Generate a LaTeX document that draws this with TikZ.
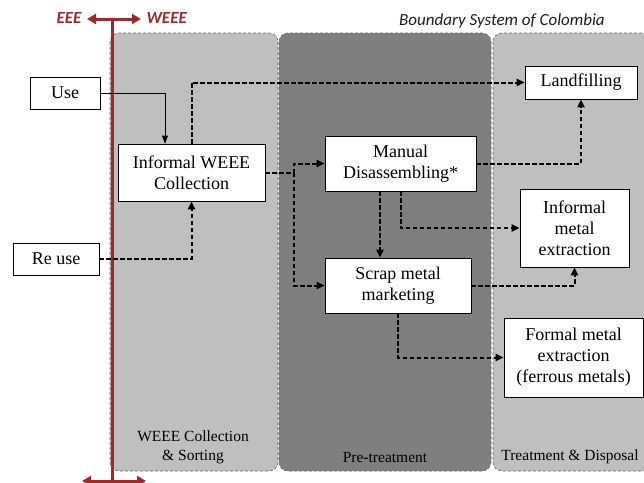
\documentclass[tikz,border=0pt]{standalone}
\usepackage{fontspec}
\setmainfont{Liberation Serif}
\newfontfamily\calib{Carlito}
\usetikzlibrary{arrows.meta, positioning}
\definecolor{lightpanel}{RGB}{191,191,191}
\definecolor{darkpanel}{RGB}{127,127,127}
\definecolor{borderred}{RGB}{158,42,43}
\definecolor{titlegray}{RGB}{30,30,30}

\tikzset{
    proc/.style={draw, fill=white, line width=0.8pt, align=center, inner sep=0pt,
        font=\rmfamily\fontsize{18}{21}\selectfont},
    panel/.style={draw=black!60, dashed, dash pattern=on 3pt off 2pt, line width=0.6pt,
        rounded corners=9pt},
    stage/.style={align=center, font=\rmfamily\fontsize{15.5}{19}\selectfont},
    flow/.style={-{Triangle[length=8pt, width=7pt]}, line width=2pt,
        dash pattern=on 4.5pt off 2.5pt},
    feed/.style={-{Triangle[length=8pt, width=6pt]}, line width=0.8pt},
    boundary/.style={draw=borderred, line width=3pt},
    tag/.style={text=borderred, font=\calib\bfseries\itshape\fontsize{17}{20}\selectfont}
}

\begin{document}
\begin{tikzpicture}[x=1pt, y=-1pt]
    \useasboundingbox (0,0) rectangle (644,482);
    \clip (0,0) rectangle (644,482);

    % stages of the chain
    \draw[panel, fill=lightpanel] (110,33) rectangle (278,471);
    \draw[panel, fill=darkpanel] (279,33) rectangle (491,471);
    \draw[panel, fill=lightpanel] (493,33) rectangle (670,471);
    \node[stage] (stcoll) at (193,447) {WEEE Collection\\\& Sorting};
    \node[stage] (stpre) at (385,457) {Pre-treatment};
    \node[stage] (sttreat) at (570,457) {Treatment \& Disposal};
    \node[font=\calib\itshape\fontsize{17}{20}\selectfont, text=titlegray] (title) at (502,21)
        {Boundary System of Colombia};

    % EEE / WEEE border
    \coordinate (btop) at (112,19);
    \coordinate (bbot) at (112,481);
    \coordinate (tl) at (87,19);
    \coordinate (tr) at (141,19);
    \coordinate (bl) at (82,481);
    \coordinate (br) at (146,481);
    \draw[boundary] (btop) -- (bbot);
    \draw[boundary, {Triangle[length=9pt, width=10pt]}-{Triangle[length=9pt, width=10pt]}] (tl) -- (tr);
    \draw[boundary, {Triangle[length=9pt, width=10pt]}-{Triangle[length=9pt, width=10pt]}] (bl) -- (br);
    \node[tag, anchor=east] (eee) at (85,18) {EEE};
    \node[tag, anchor=west] (weee) at (143,18) {WEEE};

    % processes
    \node[proc, minimum width=70pt, minimum height=32pt] (use) at (65,93) {Use};
    \node[proc, minimum width=86pt, minimum height=32pt] (reuse) at (56,259) {Re use};
    \node[proc, minimum width=147pt, minimum height=57pt] (coll) at (191.5,172.5) {Informal WEEE\\Collection};
    \node[proc, minimum width=151pt, minimum height=55pt] (manual) at (400.5,163.5) {Manual\\Disassembling*};
    \node[proc, minimum width=146pt, minimum height=55pt] (scrap) at (398,285.5) {Scrap metal\\marketing};
    \node[proc, minimum width=112pt, minimum height=33pt] (landf) at (581,82.5) {Landfilling};
    \node[proc, minimum width=109pt, minimum height=78pt] (infmet) at (574.5,228) {Informal\\metal\\extraction};
    \node[proc, minimum width=139pt, minimum height=79pt] (formet) at (573.5,357.5) {Formal metal\\extraction\\(ferrous metals)};

    % flows
    \coordinate (split) at (294,172.5);
    \coordinate (drop) at (380,191);
    \draw[feed] (use.east) -| ([xshift=-26.5pt]coll.north);
    \draw[flow] (coll.north) |- (landf.west);
    \draw[flow] (reuse.east) -| (coll.south);
    \draw[flow] (coll.east) -- (split) |- (manual.west);
    \draw[flow] (split) |- (scrap.west);
    \draw[flow] (manual.east) -| (landf.south);
    \draw[flow] (drop) -- (drop |- scrap.north);
    \draw[flow] (manual.south) |- (infmet.west);
    \draw[flow] (scrap.east) -| (infmet.south);
    \draw[flow] (scrap.south) |- (formet.west);
\end{tikzpicture}
\end{document}
